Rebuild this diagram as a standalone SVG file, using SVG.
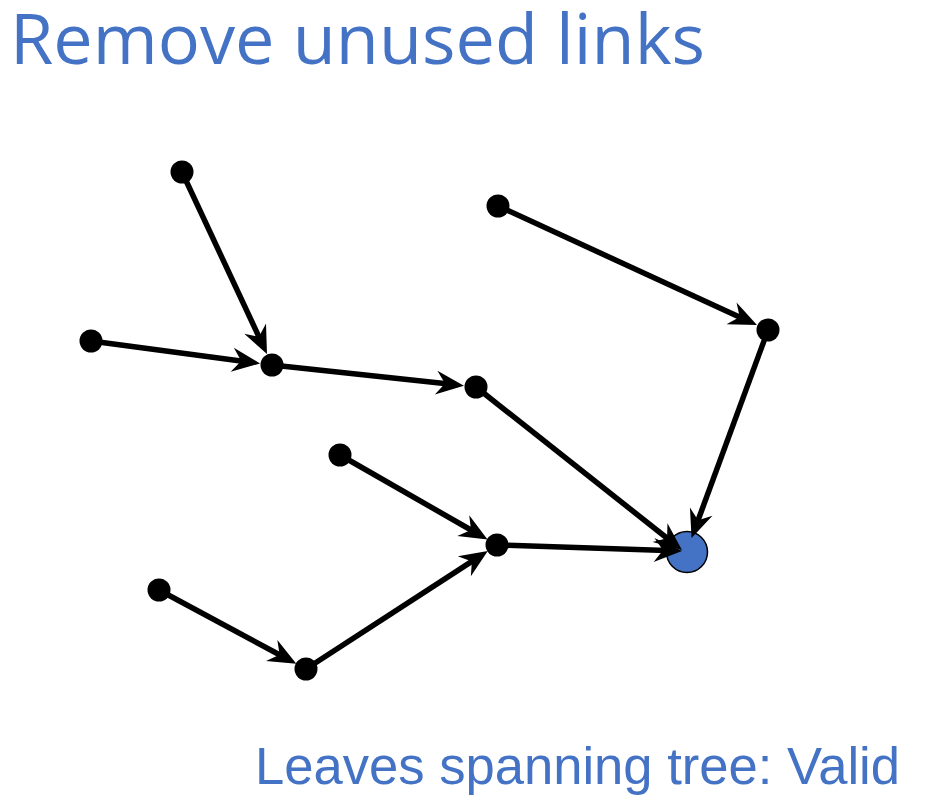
<svg xmlns="http://www.w3.org/2000/svg" width="936" height="812" viewBox="0 0 936 812">
<style>
.title{font-family:"Open Sans","Noto Sans",sans-serif;font-size:69px;fill:#4472C4}
.sub{font-family:"Liberation Sans",Arial,sans-serif;font-size:51px;fill:#4472C4}
.node{fill:#000}
.root{fill:#4472C4;stroke:#000;stroke-width:1.5}
.edge{stroke:#000;stroke-width:5.5;fill:none;marker-end:url(#arr)}
</style>
<defs>
<marker id="arr" markerUnits="userSpaceOnUse" orient="auto" refX="-8" refY="0" markerWidth="40" markerHeight="30" overflow="visible">
<path d="M0,0 L-28,-12 L-19,0 L-28,12 Z" fill="#000"/>
</marker>
</defs>
<text class="title" x="10" y="64" textLength="695" lengthAdjust="spacingAndGlyphs">Remove unused links</text>
<g id="nodes">
<g id="nA"><circle class="node" cx="182" cy="172" r="11.5"/></g>
<g id="nB"><circle class="node" cx="498" cy="206" r="11.5"/></g>
<g id="nC"><circle class="node" cx="91" cy="341" r="11.5"/></g>
<g id="nD"><circle class="node" cx="272" cy="365" r="11.5"/></g>
<g id="nE"><circle class="node" cx="476" cy="387" r="11.5"/></g>
<g id="nF"><circle class="node" cx="768" cy="330" r="11.5"/></g>
<g id="nG"><circle class="node" cx="340" cy="455" r="11.5"/></g>
<g id="nH"><circle class="node" cx="497" cy="545" r="11.5"/></g>
<g id="nI"><circle class="node" cx="159" cy="590" r="11.5"/></g>
<g id="nJ"><circle class="node" cx="306" cy="669" r="11.5"/></g>
<g id="nRoot"><circle class="root" cx="687" cy="552" r="20.5"/></g>
</g>
<g id="connectors">
<line class="edge" x1="182" y1="172" x2="263.6" y2="346.8"/>
<line class="edge" x1="91" y1="341" x2="252.1" y2="362.4"/>
<line class="edge" x1="272" y1="365" x2="456" y2="384.8"/>
<line class="edge" x1="476" y1="387" x2="675.7" y2="545"/>
<line class="edge" x1="498" y1="206" x2="749.7" y2="321.7"/>
<line class="edge" x1="768" y1="330" x2="694.3" y2="530.5"/>
<line class="edge" x1="340" y1="455" x2="480.6" y2="535.5"/>
<line class="edge" x1="159" y1="590" x2="289.3" y2="660"/>
<line class="edge" x1="306" y1="669" x2="481.1" y2="555.4"/>
<line class="edge" x1="497" y1="545" x2="674" y2="550.7"/>
</g>
<text class="sub" x="255" y="784" textLength="645" lengthAdjust="spacingAndGlyphs">Leaves spanning tree: Valid</text>
</svg>
